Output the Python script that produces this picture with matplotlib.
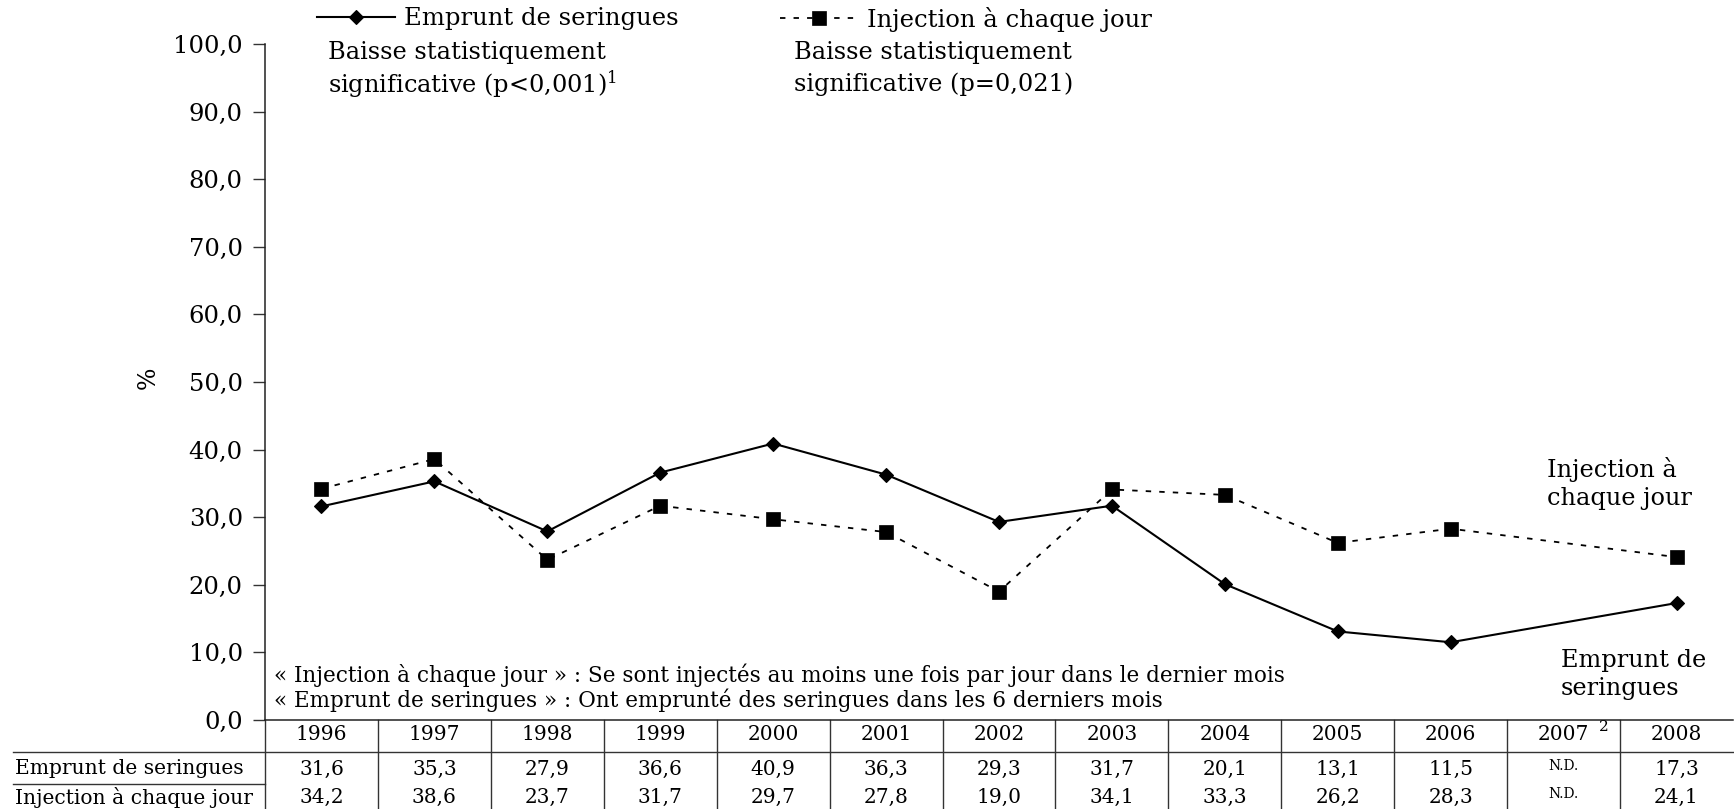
import matplotlib
matplotlib.use('Agg')
import matplotlib.pyplot as plt

# ---------------- data ----------------
years = ['1996', '1997', '1998', '1999', '2000', '2001', '2002',
         '2003', '2004', '2005', '2006', '2007', '2008']
emprunt = [31.6, 35.3, 27.9, 36.6, 40.9, 36.3, 29.3, 31.7, 20.1, 13.1, 11.5, None, 17.3]
injection = [34.2, 38.6, 23.7, 31.7, 29.7, 27.8, 19.0, 34.1, 33.3, 26.2, 28.3, None, 24.1]
series_labels = ['Emprunt de seringues', 'Injection à chaque jour']
yticks = [0, 10, 20, 30, 40, 50, 60, 70, 80, 90, 100]
missing_label = 'N.D.'

plt.rcParams['font.family'] = ['DejaVu Serif']
plt.rcParams['mathtext.fontset'] = 'dejavuserif'

W, H = 1734, 809
fig = plt.figure(figsize=(W / 100, H / 100), dpi=100)


def fx(px):
    return px / W


def fy(py):
    return 1 - py / H


AX_L, AX_R, AX_T, AX_B = 265, 1733, 44, 720
ax = fig.add_axes([fx(AX_L), fy(AX_B), (AX_R - AX_L) / W, (AX_B - AX_T) / H])
axh = AX_B - AX_T


def ay(py):
    """figure pixel row -> axes fraction"""
    return (AX_B - py) / axh


def valid(vals):
    xs = [i for i, v in enumerate(vals) if v is not None]
    ys = [v for v in vals if v is not None]
    return xs, ys


xe, ye = valid(emprunt)
xi, yi = valid(injection)
le, = ax.plot(xe, ye, color='black', lw=1.5, marker='D', ms=7, mew=0.8,
              label=series_labels[0], zorder=3)
li, = ax.plot(xi, yi, color='black', lw=1.3, ls=(0, (3, 4.5)), marker='s', ms=10, mew=0.5,
              label=series_labels[1], zorder=3)

ax.set_xlim(-0.5, 12.5)
ax.set_ylim(0, 100)
ax.set_yticks(yticks)
ax.set_yticklabels([f"{v:.1f}".replace('.', ',') for v in yticks], fontsize=17.5)
ax.tick_params(axis='y', direction='out', length=9, width=1, pad=7, color='#333333')
ax.set_xticks([])
for s in ['top', 'right']:
    ax.spines[s].set_visible(False)
for s in ['left', 'bottom']:
    ax.spines[s].set_linewidth(1.1)
    ax.spines[s].set_color('#222222')
ax.patch.set_alpha(0)

fig.text(fx(148), fy(378), '%', rotation=90, fontsize=17, ha='center', va='center')

# ---------------- legends (top) ----------------
fig.legend(handles=[le], loc='center left', bbox_to_anchor=(fx(317), fy(19)),
           frameon=False, borderpad=0, borderaxespad=0, handlelength=3.2,
           handletextpad=0.38, fontsize=17.5)
fig.legend(handles=[li], loc='center left', bbox_to_anchor=(fx(780), fy(19)),
           frameon=False, borderpad=0, borderaxespad=0, handlelength=3.2,
           handletextpad=0.38, fontsize=17.5)

# ---------------- annotations ----------------
afs = 17.3
fig.text(fx(328), fy(53), 'Baisse statistiquement', fontsize=afs, va='center')
fig.text(fx(328), fy(84), 'significative (p<0,001)$^{1}$', fontsize=afs, va='center')
fig.text(fx(794), fy(53), 'Baisse statistiquement', fontsize=afs, va='center')
fig.text(fx(794), fy(84), 'significative (p=0,021)', fontsize=afs, va='center')

rfs = 17.3
fig.text(fx(1547), fy(469), 'Injection à', fontsize=rfs, va='center')
fig.text(fx(1547), fy(498), 'chaque jour', fontsize=rfs, va='center')
fig.text(fx(1561), fy(660), 'Emprunt de', fontsize=rfs, va='center')
fig.text(fx(1561), fy(688), 'seringues', fontsize=rfs, va='center')

ffs = 15.5
fig.text(fx(274), fy(675),
         '« Injection à chaque jour » : Se sont injectés au moins une fois par jour dans le dernier mois',
         fontsize=ffs, va='center')
fig.text(fx(274), fy(700),
         '« Emprunt de seringues » : Ont emprunté des seringues dans les 6 derniers mois',
         fontsize=ffs, va='center')

# ---------------- data table ----------------
tr = ax.get_xaxis_transform()
colw = (AX_R - AX_L) / 13
lab_x = -0.5 + (13 - AX_L) / colw
text_x = -0.5 + (15 - AX_L) / colw
y_bottom = ay(830)
for i in range(len(years)):
    ax.plot([i - 0.5, i - 0.5], [0, y_bottom], transform=tr, color='#333333', lw=1.0,
            clip_on=False)
ax.plot([lab_x, 12.5], [ay(752), ay(752)], transform=tr, color='#333333', lw=1.0, clip_on=False)
ax.plot([lab_x, -0.5], [ay(784), ay(784)], transform=tr, color='#333333', lw=1.0, clip_on=False)

row_y = [ay(735), ay(769), ay(797)]
tfs = 14.5
for i, yr in enumerate(years):
    ax.text(i, row_y[0], yr, transform=tr, ha='center', va='center', fontsize=tfs, clip_on=False)
ax.text(11.31, ay(727), '2', transform=tr, ha='left', va='center', fontsize=11, clip_on=False)

lfs = 14.6
for r, (lab, vals) in enumerate(zip(series_labels, [emprunt, injection])):
    ax.text(text_x, row_y[r + 1], lab, transform=tr, ha='left', va='center', fontsize=lfs,
            clip_on=False)
    for i, v in enumerate(vals):
        if v is None:
            ax.text(i, row_y[r + 1] + 3 / axh, missing_label, transform=tr, ha='center',
                    va='center', fontsize=10, clip_on=False)
        else:
            ax.text(i, row_y[r + 1], f"{v:.1f}".replace('.', ','), transform=tr,
                    ha='center', va='center', fontsize=tfs, clip_on=False)

fig.savefig('out.png', dpi=100)
